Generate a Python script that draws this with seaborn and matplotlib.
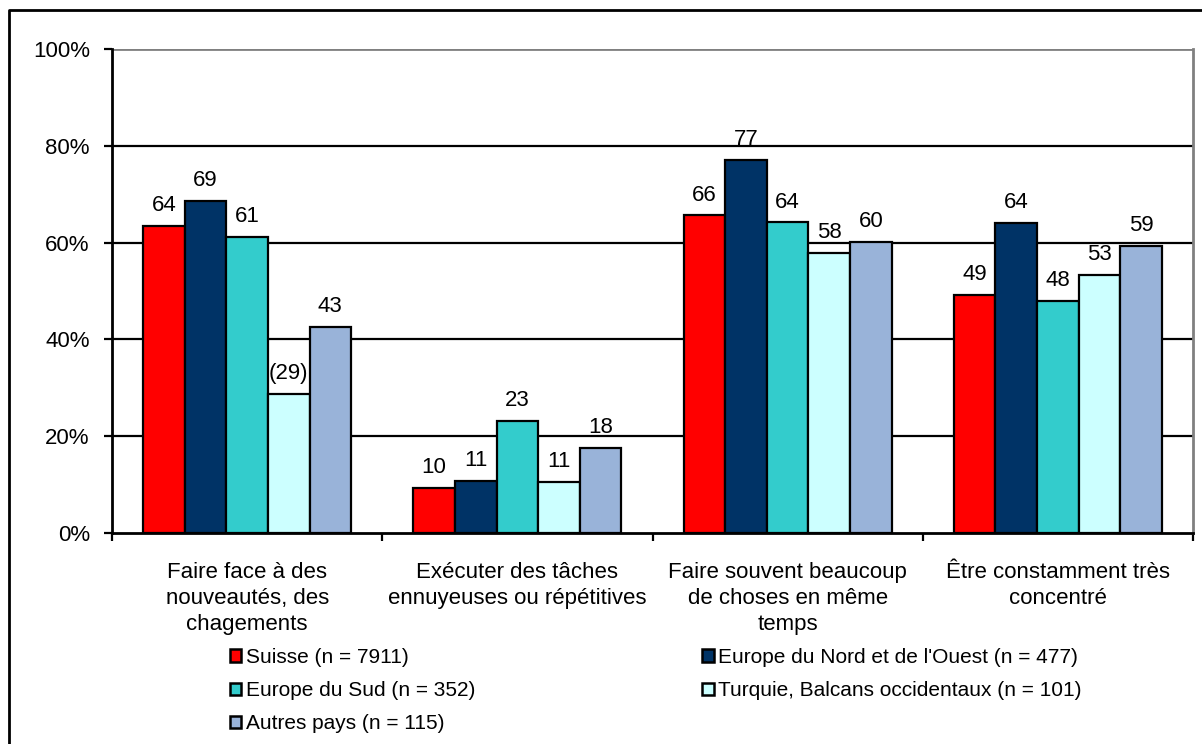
import matplotlib
matplotlib.use("Agg")
import matplotlib.pyplot as plt
from matplotlib.lines import Line2D
import seaborn as sns
import pandas as pd
import numpy as np

categories = [
    "Faire face à des\nnouveautés, des\nchagements",
    "Exécuter des tâches\nennuyeuses ou répétitives",
    "Faire souvent beaucoup\nde choses en même\ntemps",
    "Être constamment très\nconcentré",
]
groups = [
    "Suisse (n = 7911)",
    "Europe du Nord et de l'Ouest (n = 477)",
    "Europe du Sud (n = 352)",
    "Turquie, Balcans occidentaux (n = 101)",
    "Autres pays (n = 115)",
]
suisse = [63.5, 9.4, 65.6, 49.2]
nord_ouest = [68.6, 10.8, 77.1, 64.1]
sud = [61.2, 23.2, 64.2, 47.9]
turquie = [28.7, 10.5, 57.9, 53.3]
autres = [42.6, 17.6, 60.1, 59.4]
labels = [
    ["64", "10", "66", "49"],
    ["69", "11", "77", "64"],
    ["61", "23", "64", "48"],
    ["(29)", "11", "58", "53"],
    ["43", "18", "60", "59"],
]
colors = ["#FF0000", "#003366", "#33CCCC", "#CCFFFF", "#99B3D9"]

series = [suisse, nord_ouest, sud, turquie, autres]
rows = []
for g, vals in zip(groups, series):
    for c, v in zip(categories, vals):
        rows.append({"cat": c, "grp": g, "val": v})
df = pd.DataFrame(rows)

plt.rcParams["font.family"] = ["Liberation Sans", "DejaVu Sans"]
W, H = 1202, 744
fig = plt.figure(figsize=(W / 100, H / 100), dpi=100)
ax = fig.add_axes([112 / W, 1 - 533 / H, (1193 - 112) / W, (533 - 49) / H])

sns.barplot(data=df, x="cat", y="val", hue="grp", order=categories,
            hue_order=groups, palette=colors, width=0.77,
            edgecolor="black", linewidth=1.6, saturation=1,
            legend=False, ax=ax, zorder=3)

for cont, labs in zip(ax.containers, labels):
    ax.bar_label(cont, labels=labs, padding=7, fontsize=16)

ax.set_ylim(0, 100)
ax.set_xlim(-0.5, 3.5)
ax.set_yticks([0, 20, 40, 60, 80, 100])
ax.set_yticklabels(["0%", "20%", "40%", "60%", "80%", "100%"], fontsize=16)
for yv in [20, 40, 60, 80]:
    ax.axhline(yv, color="black", lw=1.6, zorder=1)
ax.axhline(100, color="#808080", lw=2, zorder=1)
ax.set_xticks(range(4))
ax.set_xticklabels(categories, fontsize=16, linespacing=1.32)
ax.tick_params(axis="x", length=0, pad=21)
ax.set_xticks([-0.5, 0.5, 1.5, 2.5, 3.5], minor=True)
ax.tick_params(axis="x", which="minor", length=6, width=1.6, direction="out")
ax.tick_params(axis="y", length=6, width=1.6, direction="out", pad=10)
ax.set_xlabel("")
ax.set_ylabel("")
for s in ["left", "bottom"]:
    ax.spines[s].set_linewidth(2)
    ax.spines[s].set_color("black")
ax.spines["top"].set_visible(False)
ax.spines["right"].set_color("#808080")
ax.spines["right"].set_linewidth(2)

handles = [plt.Rectangle((0, 0), 1, 1, facecolor=c, edgecolor="black", lw=1.8) for c in colors]
order = [0, 2, 4, 1, 3]
leg = fig.legend([handles[i] for i in order], [groups[i] for i in order],
                 loc="upper left", bbox_to_anchor=(230 / W, 1 - 648 / H),
                 ncol=2, frameon=False, borderpad=0, borderaxespad=0,
                 handlelength=0.55, handleheight=0.55, handletextpad=0.2,
                 labelspacing=0.68, columnspacing=10.9,
                 prop={"family": ["Liberation Sans"], "size": 15})

fig.add_artist(Line2D([9 / W, 9 / W, 1.0], [0.0, 1 - 10 / H, 1 - 10 / H],
                      transform=fig.transFigure, color="black", lw=2))

fig.savefig("out.png", dpi=100)
